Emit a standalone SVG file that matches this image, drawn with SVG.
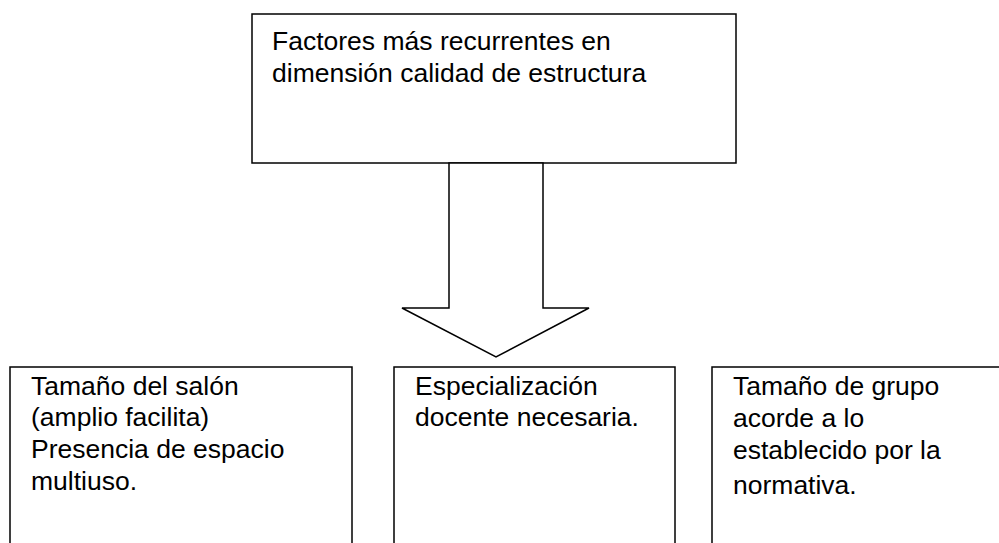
<svg xmlns="http://www.w3.org/2000/svg" width="999" height="543" viewBox="0 0 999 543">
<style>
.box{fill:#fff;stroke:#000;stroke-width:1.5}
.t{font-family:"Liberation Sans",Arial,sans-serif;font-size:26.5px;fill:#000}
</style>
<rect width="999" height="543" fill="#fff"/>
<g id="top">
<rect class="box" x="252" y="14" width="484" height="149"/>
<text class="t" x="272" y="50">Factores más recurrentes en</text>
<text class="t" x="272" y="82">dimensión calidad de estructura</text>
</g>
<g id="connectors">
<polygon class="box" points="449,163 543,163 543,308 589,308 496,357 402,308 449,308"/>
</g>
<g id="b1">
<rect class="box" x="10" y="367" width="342" height="200"/>
<text class="t" x="31" y="395">Tamaño del salón</text>
<text class="t" x="31" y="426">(amplio facilita)</text>
<text class="t" x="31" y="458">Presencia de espacio</text>
<text class="t" x="31" y="490">multiuso.</text>
</g>
<g id="b2">
<rect class="box" x="394" y="367" width="281" height="200"/>
<text class="t" x="415" y="395">Especialización</text>
<text class="t" x="415" y="426">docente necesaria.</text>
</g>
<g id="b3">
<rect class="box" x="712" y="367" width="320" height="200"/>
<text class="t" x="733" y="395">Tamaño de grupo</text>
<text class="t" x="733" y="427">acorde a lo</text>
<text class="t" x="733" y="459">establecido por la</text>
<text class="t" x="733" y="494">normativa.</text>
</g>
</svg>
